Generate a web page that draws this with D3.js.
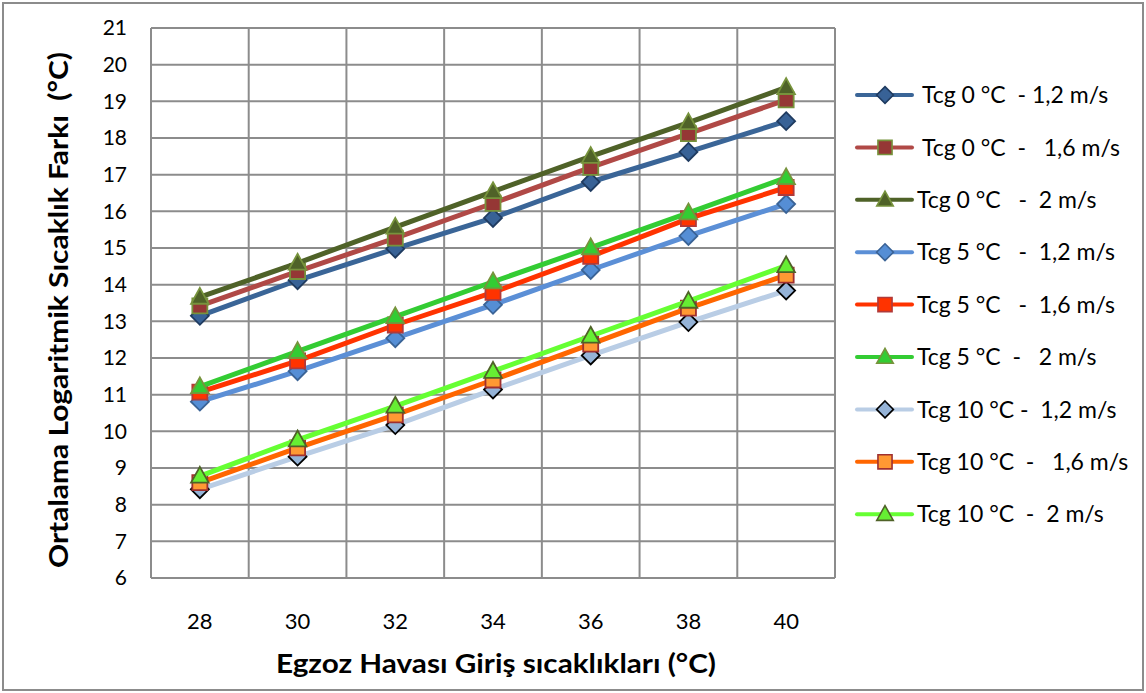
<!DOCTYPE html>
<html>
<head>
<meta charset="utf-8">
<script src="https://cdn.jsdelivr.net/npm/d3@7/dist/d3.min.js"></script>
<style>
  html, body { margin: 0; padding: 0; background: #fff; }
  svg { display: block; }
  text { font-family: Lato, "Noto Sans", sans-serif; fill: #000; }
</style>
</head>
<body>
<svg id="chart" width="1146" height="693"></svg>
<script>
// Exhaust inlet temperatures (°C)
const categories = [28, 30, 32, 34, 36, 38, 40];

// Mean logarithmic temperature difference (°C) per case
const tcg0_12  = [13.15, 14.12, 14.98, 15.82, 16.80, 17.62, 18.46];
const tcg0_16  = [13.42, 14.36, 15.27, 16.22, 17.20, 18.12, 19.04];
const tcg0_20  = [13.66, 14.59, 15.57, 16.54, 17.50, 18.42, 19.38];
const tcg5_12  = [10.81, 11.64, 12.54, 13.45, 14.40, 15.33, 16.20];
const tcg5_16  = [11.07, 11.92, 12.90, 13.79, 14.77, 15.80, 16.65];
const tcg5_20  = [11.22, 12.18, 13.13, 14.08, 15.01, 15.96, 16.92];
const tcg10_12 = [8.42, 9.31, 10.17, 11.14, 12.07, 12.98, 13.84];
const tcg10_16 = [8.60, 9.55, 10.45, 11.40, 12.38, 13.36, 14.26];
const tcg10_20 = [8.78, 9.77, 10.69, 11.64, 12.60, 13.55, 14.52];

const seriesNames = [
  "Tcg 0 °C  - 1,2 m/s",
  "Tcg 0 °C  -   1,6 m/s",
  "Tcg 0 °C   -  2 m/s",
  "Tcg 5 °C   -  1,2 m/s",
  "Tcg 5 °C   -  1,6 m/s",
  "Tcg 5 °C  -   2 m/s",
  "Tcg 10 °C -  1,2 m/s",
  "Tcg 10 °C  -   1,6 m/s",
  "Tcg 10 °C  -  2 m/s"
];
const yTicks = d3.range(6, 22, 1);

const seriesValues = [tcg0_12, tcg0_16, tcg0_20, tcg5_12, tcg5_16, tcg5_20, tcg10_12, tcg10_16, tcg10_20];

// Appearance of each series: line colour, marker shape, marker fill and outline
const styles = [
  { line: "#3A6597", shape: "diamond",  fill: "#386296", stroke: "#1F3B60" },
  { line: "#B04946", shape: "square",   fill: "#953735", stroke: "#77933C" },
  { line: "#4F6228", shape: "triangle", fill: "#4F6228", stroke: "#77933C" },
  { line: "#5B8FD6", shape: "diamond",  fill: "#558ED5", stroke: "#3A6396" },
  { line: "#FF3300", shape: "square",   fill: "#FF3300", stroke: "#B03A3A" },
  { line: "#33CC33", shape: "triangle", fill: "#33CC33", stroke: "#77933C" },
  { line: "#B9CDE5", shape: "diamond",  fill: "#95B3D7", stroke: "#000000" },
  { line: "#FF6600", shape: "square",   fill: "#FF9933", stroke: "#A0302F" },
  { line: "#66FF33", shape: "triangle", fill: "#66EE33", stroke: "#4F6228" }
];

const svg = d3.select("#chart");
const W = 1146, H = 693;
const plot = { left: 151, right: 835, top: 28, bottom: 578 };

// Outer frame
svg.append("rect")
  .attr("x", 3).attr("y", 3).attr("width", W - 6).attr("height", H - 6)
  .attr("fill", "#fff").attr("stroke", "#8c8c8c").attr("stroke-width", 2);

const x = d3.scaleBand().domain(categories).range([plot.left, plot.right]).padding(0);
const y = d3.scaleLinear().domain([6, 21]).range([plot.bottom, plot.top]);
const cx = d => x(d) + x.bandwidth() / 2;

// Grid
const grid = svg.append("g").attr("stroke", "#8c8c8c").attr("stroke-width", 2);
grid.selectAll("line.h").data(yTicks).join("line")
  .attr("class", "h")
  .attr("x1", plot.left).attr("x2", plot.right)
  .attr("y1", d => y(d)).attr("y2", d => y(d));
const vBounds = categories.map(c => x(c)).concat([plot.right]);
grid.selectAll("line.v").data(vBounds).join("line")
  .attr("class", "v")
  .attr("x1", d => d).attr("x2", d => d)
  .attr("y1", plot.top).attr("y2", plot.bottom);

// Axes (labels only, Excel style)
const yAxis = svg.append("g")
  .attr("transform", `translate(${plot.left - 24},0)`)
  .call(d3.axisLeft(y).tickValues(yTicks).tickSize(0).tickPadding(0));
yAxis.select(".domain").remove();
yAxis.selectAll("text").style("font-size", "21px").style("font-family", "Lato, sans-serif");

const xAxis = svg.append("g")
  .attr("transform", `translate(0,${plot.bottom})`)
  .call(d3.axisBottom(x).tickSize(0).tickPadding(35));
xAxis.select(".domain").remove();
xAxis.selectAll("text").style("font-size", "22px").style("font-family", "Lato, sans-serif");

// Marker paths
function markerPath(shape, s) {
  if (shape === "diamond") {
    const r = s * 0.56;
    return `M0,${-r}L${r},0L0,${r}L${-r},0Z`;
  }
  if (shape === "square") {
    const h = s * 0.47;
    return `M${-h},${-h}H${h}V${h}H${-h}Z`;
  }
  const h = s * 0.55;
  return `M0,${-h * 1.05}L${h},${h * 0.75}L${-h},${h * 0.75}Z`;
}

const line = d3.line().x((d, i) => cx(categories[i])).y(d => y(d));

seriesValues.forEach((vals, k) => {
  const st = styles[k];
  const g = svg.append("g");
  g.append("path").datum(vals)
    .attr("d", line)
    .attr("fill", "none")
    .attr("stroke", st.line)
    .attr("stroke-width", 5)
    .attr("stroke-linejoin", "round");
  g.selectAll("path.m").data(vals).join("path")
    .attr("class", "m")
    .attr("transform", (d, i) => `translate(${cx(categories[i])},${y(d)})`)
    .attr("d", markerPath(st.shape, 16))
    .attr("fill", st.fill)
    .attr("stroke", st.stroke)
    .attr("stroke-width", 1.8);
});

// Legend
const legend = svg.append("g");
const legendX = [922, 922, 917, 917, 917, 917, 917, 917, 917];
seriesNames.forEach((name, k) => {
  const st = styles[k];
  const ly = 95 + k * 52.4;
  legend.append("line")
    .attr("x1", 857).attr("x2", 912).attr("y1", ly).attr("y2", ly)
    .attr("stroke", st.line).attr("stroke-width", 4).attr("stroke-linecap", "round");
  legend.append("path")
    .attr("transform", `translate(885,${ly})`)
    .attr("d", markerPath(st.shape, 15))
    .attr("fill", st.fill).attr("stroke", st.stroke).attr("stroke-width", 1.6);
  legend.append("text")
    .attr("x", legendX[k]).attr("y", ly)
    .attr("dy", "0.36em")
    .style("font-size", "23px")
    .style("white-space", "pre")
    .attr("xml:space", "preserve")
    .text(name);
});

// Axis titles
svg.append("text")
  .attr("transform", "translate(68,310) rotate(-90)")
  .attr("text-anchor", "middle")
  .style("font-size", "26px").style("font-weight", "bold")
  .style("white-space", "pre")
  .attr("textLength", 516).attr("lengthAdjust", "spacingAndGlyphs")
  .text("Ortalama Logaritmik Sıcaklık Farkı  (°C)");

svg.append("text")
  .attr("x", 496).attr("y", 673)
  .attr("text-anchor", "middle")
  .style("font-size", "26px").style("font-weight", "bold")
  .attr("textLength", 440).attr("lengthAdjust", "spacingAndGlyphs")
  .text("Egzoz Havası Giriş sıcaklıkları (°C)");
</script>
</body>
</html>
